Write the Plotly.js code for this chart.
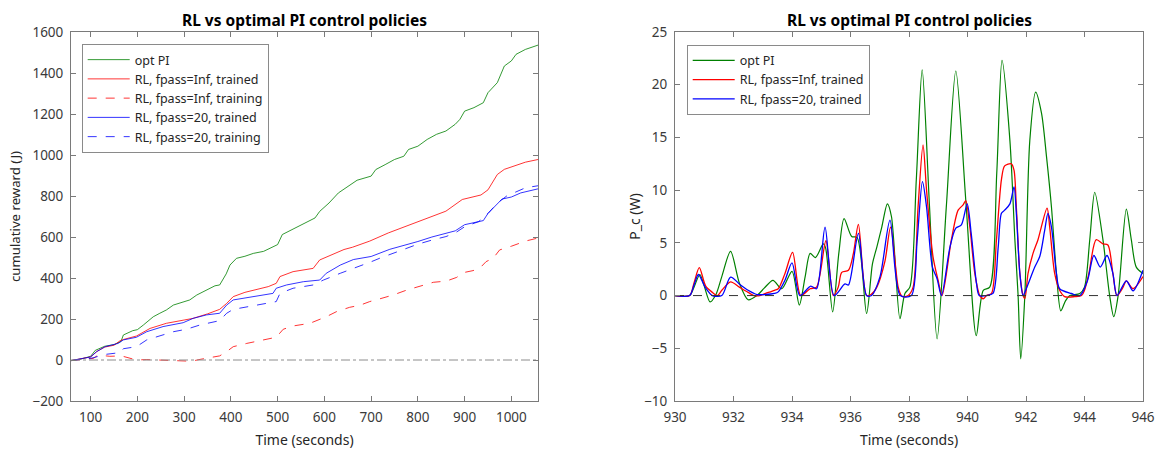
<!DOCTYPE html>
<html>
<head>
<meta charset="utf-8">
<script src="https://cdn.plot.ly/plotly-3.0.1.min.js"></script>
<style>html,body{margin:0;padding:0;background:#fff;}#chart{width:1162px;height:452px;}</style>
</head>
<body>
<div id="chart"></div>
<script>
// ---------- Left panel: cumulative reward (J) vs Time (s) ----------
const optPI_t = [58,80,100,110,130,150,165,170,190,200,213,234,248,262,277,298,312,327,348,366,376,390,398,412,430,448,470,490,500,510,530,550,580,590,610,630,650,670,700,710,730,750,770,780,800,820,840,860,880,890,900,920,940,950,970,985,1000,1010,1030,1057];
const optPI_r = [-3,5,18,47,67,75,91,122,143,148,171,211,228,244,268,285,293,317,341,362,366,420,463,496,506,520,530,551,563,612,636,660,693,725,766,815,848,877,897,929,953,978,994,1027,1043,1076,1101,1117,1150,1174,1214,1231,1255,1304,1353,1434,1459,1491,1515,1536];

const infTrained_t = [58,80,100,113,130,150,163,170,198,227,262,300,319,350,376,391,405,430,448,480,497,505,533,576,590,626,642,660,697,737,760,800,830,860,895,935,950,970,985,1010,1030,1057];
const infTrained_r = [-3,5,15,41,63,72,94,100,117,154,179,195,203,225,247,276,309,330,341,358,374,407,431,447,488,522,539,550,580,620,640,677,700,726,783,805,830,905,930,950,965,978];

const infTraining_t = [58,80,106,116,131,141,166,177,198,220,248,270,298,316,334,355,376,391,405,434,462,497,512,533,569,590,604,626,654,676,697,718,747,776,804,833,861,883,897,918,932,946,961,975,1000,1030,1057];
const infTraining_r = [-3,3,8,24,20,18,20,13,0,2,0,-1,-3,-6,3,11,20,41,65,81,94,111,150,166,179,198,211,236,257,267,285,298,317,341,358,379,385,403,426,436,447,480,496,537,555,580,595];

const f20Trained_t = [58,80,100,113,131,159,170,198,220,255,298,319,348,376,391,405,434,490,497,519,555,590,604,634,662,700,740,780,800,830,860,880,900,930,940,950,970,980,1000,1020,1057];
const f20Trained_r = [-3,5,15,41,65,81,98,111,138,163,182,203,220,228,268,293,304,325,350,366,382,390,423,463,490,505,540,565,578,600,618,630,660,675,680,715,760,785,795,815,835];

const f20Training_t = [58,80,100,134,163,170,198,220,248,277,305,334,376,391,405,448,497,505,533,576,598,634,654,701,718,747,780,800,830,860,880,900,930,950,970,990,1010,1030,1057];
const f20Training_r = [-3,3,8,28,36,55,65,98,117,138,150,171,192,228,247,263,285,325,350,366,390,423,439,480,496,520,550,565,585,602,620,650,675,715,765,800,820,840,850];

const leftRange_t = [58,1057];
const leftZero_r = [0,0];

// ---------- Right panel: P_c (W) vs Time (s) ----------
const optPI_pt = [930,930.5,930.65,930.85,931.0,931.2,931.4,931.6,931.9,932.2,932.5,932.8,933.05,933.35,933.65,934.0,934.25,934.45,934.62,934.8,935.07,935.15,935.39,935.6,935.78,936.04,936.23,936.55,936.75,936.9,937.07,937.26,937.4,937.69,937.86,938.03,938.25,938.45,938.7,938.96,939.28,939.6,939.95,940.3,940.54,940.76,941.0,941.18,941.45,941.62,941.73,941.82,941.96,942.13,942.33,942.53,942.7,942.87,943.04,943.19,943.35,943.5,943.84,944.0,944.18,944.35,944.63,944.86,945.0,945.15,945.43,945.6,945.77,946];
const optPI_p = [0,0,0.8,2.0,0.9,-0.6,0.1,1.8,4.2,1.2,-0.4,0,0.7,1.45,0.65,2.3,-0.9,1.8,4.0,3.6,4.9,4.5,-1.55,4.0,7.3,5.6,5.5,-1.7,3.0,4.6,6.5,8.7,7.5,-2.2,0.2,0.8,11,21.4,8.5,-4.1,8.6,21.3,8.7,-3.8,0.5,0.8,11.6,22.3,14.7,5.3,0,-6.0,0,14.7,19.3,17.3,13.2,8.4,2.1,-1.45,-0.5,0,0.2,0.8,5.3,9.8,5.3,0,-2.0,0,8.2,5.3,2.7,2.1];

const infTrained_pt = [930,930.5,930.65,930.83,931.05,931.28,931.45,931.6,931.9,932.2,932.5,932.7,932.9,933.1,933.4,933.53,933.76,934.02,934.3,934.62,934.84,935.16,935.41,935.58,935.7,935.93,936.1,936.27,936.55,936.7,936.9,937.18,937.37,937.63,937.74,937.8,937.97,938.14,938.31,938.48,938.6,938.82,938.99,939.13,939.45,939.68,939.85,939.94,940.08,940.25,940.42,940.54,940.65,940.82,940.99,941.16,941.27,941.5,941.59,941.67,941.79,941.9,941.96,942.07,942.24,942.41,942.72,942.81,942.98,943.15,943.32,943.67,943.9,944.0,944.15,944.4,944.63,944.8,944.97,945.11,945.32,945.43,945.66,946];
const infTrained_p = [0,0,1.2,2.65,0.9,0.3,0,0.5,1.3,0.8,0.3,0,0,0.2,0.5,0.65,2.1,4.1,0,0.65,0.8,5.2,0,0.8,2.2,2.4,4.0,6.75,0,0.1,0.8,3.3,6.5,0.8,0,-0.1,0,0.8,8.4,14.3,10.0,3.7,1.5,0,5.3,8.1,8.6,9.0,6.5,2.1,0,-0.3,0,0.2,5.3,11,12.3,12.5,11.9,8.4,2.1,0,-0.3,2.1,4.0,5.3,8.3,6.5,2.1,0.5,-0.1,-0.1,0,0.5,2.1,5.3,4.9,4.8,2.1,0,0.8,1.4,0.65,1.8];

const f20Trained_pt = [930,930.5,930.65,930.8,931.03,931.28,931.6,931.9,932.24,932.5,932.8,933.1,933.4,933.53,933.76,934.0,934.27,934.64,934.84,935.13,935.44,935.81,935.93,936.27,936.55,936.72,937.01,937.35,937.7,938.08,938.28,938.46,938.6,938.8,938.96,939.11,939.4,939.6,939.79,939.99,940.13,940.31,940.4,940.65,940.87,941.05,941.16,941.27,941.45,941.59,941.67,941.79,941.9,942.01,942.3,942.47,942.64,942.75,942.87,943.04,943.15,943.55,943.84,944.1,944.32,944.54,944.77,944.97,945.11,945.43,945.66,946];
const f20Trained_p = [0,0,1.0,2.0,0.8,0,0,1.75,1.0,0.5,0.1,0.1,0.2,0.35,1.45,3.1,0,0.9,0.65,6.5,0,1.1,1.0,5.9,0,0,1.8,7.15,0,0,5.3,10.8,8.4,2.7,1.6,0,4.6,6.4,6.7,8.7,5.8,1.1,0,0,0.2,4.6,7.8,8.1,8.7,10.3,7.8,2.1,0,0.65,2.7,3.7,6.2,7.8,6.5,2.1,0.65,0.2,0,1.4,3.8,2.7,3.8,2.1,0,1.4,0.45,2.4];

const rightRange_t = [930,946];
const rightZero_p = [0,0];

// tick labels
const leftXTicks = [100,200,300,400,500,600,700,800,900,1000];
const leftYTicks = [-200,0,200,400,600,800,1000,1200,1400,1600];
const rightXTicks = [930,932,934,936,938,940,942,944,946];
const rightYTicks = [-10,-5,0,5,10,15,20,25];

const GREEN = '#008000', RED = '#ff0000', BLUE = '#0000ff';
const FONT = 'Noto Sans, DejaVu Sans, sans-serif';

const traces = [
  {x: optPI_t, y: optPI_r, name:'opt PI', mode:'lines', line:{color:GREEN, width:0.8}, xaxis:'x', yaxis:'y', legend:'legend'},
  {x: infTrained_t, y: infTrained_r, name:'RL, fpass=Inf, trained', mode:'lines', line:{color:RED, width:0.8}, xaxis:'x', yaxis:'y', legend:'legend'},
  {x: infTraining_t, y: infTraining_r, name:'RL, fpass=Inf, training', mode:'lines', line:{color:RED, width:0.8, dash:'dash'}, xaxis:'x', yaxis:'y', legend:'legend'},
  {x: f20Trained_t, y: f20Trained_r, name:'RL, fpass=20, trained', mode:'lines', line:{color:BLUE, width:0.8}, xaxis:'x', yaxis:'y', legend:'legend'},
  {x: f20Training_t, y: f20Training_r, name:'RL, fpass=20, training', mode:'lines', line:{color:BLUE, width:0.8, dash:'dash'}, xaxis:'x', yaxis:'y', legend:'legend'},

  {x: optPI_pt, y: optPI_p, name:'opt PI', mode:'lines', line:{color:GREEN, width:1.2, shape:'spline', smoothing:0.8}, xaxis:'x2', yaxis:'y2', legend:'legend2'},
  {x: infTrained_pt, y: infTrained_p, name:'RL, fpass=Inf, trained', mode:'lines', line:{color:RED, width:1.3, shape:'spline', smoothing:0.8}, xaxis:'x2', yaxis:'y2', legend:'legend2'},
  {x: f20Trained_pt, y: f20Trained_p, name:'RL, fpass=20, trained', mode:'lines', line:{color:BLUE, width:1.3, shape:'spline', smoothing:0.8}, xaxis:'x2', yaxis:'y2', legend:'legend2'},

  {x: leftRange_t, y: leftZero_r, mode:'lines', line:{color:'#8c8c8c', width:1, dash:'dashdot'}, showlegend:false, xaxis:'x', yaxis:'y', hoverinfo:'skip'},
  {x: rightRange_t, y: rightZero_p, mode:'lines', line:{color:'#333333', width:1, dash:'dash'}, showlegend:false, xaxis:'x2', yaxis:'y2', hoverinfo:'skip'}
];

const axisCommon = {
  showline:true, linecolor:'#7a7a7a', linewidth:1, mirror:'ticks',
  ticks:'inside', ticklen:5, tickcolor:'#7a7a7a', tickwidth:1,
  showgrid:false, zeroline:false, automargin:false,
  tickfont:{family:FONT, size:13.5, color:'#3a3a3a'},
  ticklabelstandoff:4
};

const layout = {
  width:1162, height:452,
  margin:{l:0, r:0, t:0, b:0},
  paper_bgcolor:'#ffffff', plot_bgcolor:'#ffffff',
  font:{family:FONT, color:'#262626'},
  xaxis: Object.assign({}, axisCommon, {domain:[71/1162, 538/1162], range:[58,1057], tickvals:leftXTicks, anchor:'y',
    title:{text:'Time (seconds)', font:{family:FONT, size:14, color:'#262626'}, standoff:9}}),
  yaxis: Object.assign({}, axisCommon, {domain:[51/452, 420/452], range:[-200,1600], tickvals:leftYTicks, anchor:'x',
    title:{text:'cumulative reward (J)', font:{family:FONT, size:13.2, color:'#262626'}, standoff:8}}),
  xaxis2: Object.assign({}, axisCommon, {domain:[675/1162, 1143/1162], range:[930,946], tickvals:rightXTicks, anchor:'y2',
    title:{text:'Time (seconds)', font:{family:FONT, size:14, color:'#262626'}, standoff:9}}),
  yaxis2: Object.assign({}, axisCommon, {domain:[51/452, 420/452], range:[-10,25], tickvals:rightYTicks, anchor:'x2',
    title:{text:'P_c (W)', font:{family:FONT, size:14, color:'#262626'}, standoff:0}}),
  legend: {x:81.7/1162, y:1-44/452, xanchor:'left', yanchor:'top', bgcolor:'#ffffff', bordercolor:'#8a8a8a', borderwidth:1,
    font:{family:FONT, size:12.5, color:'#262626'}, tracegroupgap:0, itemwidth:42},
  legend2: {x:686.7/1162, y:1-44.7/452, xanchor:'left', yanchor:'top', bgcolor:'#ffffff', bordercolor:'#8a8a8a', borderwidth:1,
    font:{family:FONT, size:12.5, color:'#262626'}, tracegroupgap:0, itemwidth:42},
  annotations: [
    {text:'<b>RL vs optimal PI control policies</b>', xref:'paper', yref:'paper', x:304.5/1162, y:1-20/452, xanchor:'center', yanchor:'middle', showarrow:false, font:{family:FONT, size:15.5, color:'#000000'}},
    {text:'<b>RL vs optimal PI control policies</b>', xref:'paper', yref:'paper', x:909/1162, y:1-20/452, xanchor:'center', yanchor:'middle', showarrow:false, font:{family:FONT, size:15.5, color:'#000000'}}
  ],
  showlegend:true
};

Plotly.newPlot('chart', traces, layout, {displayModeBar:false, staticPlot:true});
</script>
</body>
</html>
